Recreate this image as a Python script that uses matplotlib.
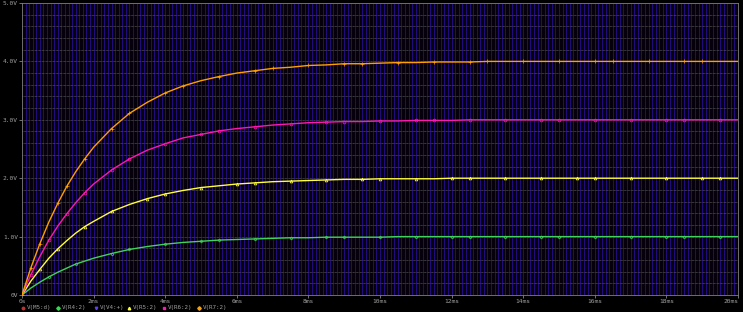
import numpy as np
import matplotlib
matplotlib.use('Agg')
import matplotlib.pyplot as plt

# tempo em ms (amostras)
tempo_ms = [0, 0.25, 0.5, 0.75, 1, 1.25, 1.5, 1.75, 2, 2.5, 3, 3.5, 4, 4.5, 5, 5.5, 6, 6.5,
            7, 7.5, 8, 8.5, 9, 9.5, 10, 10.5, 11, 11.5, 12, 12.5, 13, 13.5, 14, 14.5,
            15, 15.5, 16, 16.5, 17, 17.5, 18, 18.5, 19, 19.5, 20]

v_r7 = [0, 0.47, 0.88, 1.25, 1.57, 1.86, 2.11, 2.33, 2.53, 2.85, 3.11, 3.30, 3.46, 3.58,
        3.67, 3.74, 3.80, 3.84, 3.88, 3.90, 3.93, 3.94, 3.96, 3.96, 3.97, 3.98, 3.98, 3.99,
        3.99, 3.99, 4.00, 4.00, 4.00, 4.00, 4.00, 4.00, 4.00, 4.00, 4.00, 4.00, 4.00, 4.00,
        4.00, 4.00, 4.00]
v_r6 = [0, 0.35, 0.66, 0.94, 1.18, 1.39, 1.58, 1.75, 1.90, 2.14, 2.33, 2.48, 2.59, 2.69,
        2.75, 2.81, 2.85, 2.88, 2.91, 2.93, 2.95, 2.96, 2.97, 2.97, 2.98, 2.98, 2.99, 2.99,
        2.99, 3.00, 3.00, 3.00, 3.00, 3.00, 3.00, 3.00, 3.00, 3.00, 3.00, 3.00, 3.00, 3.00,
        3.00, 3.00, 3.00]
v_r5 = [0, 0.24, 0.44, 0.63, 0.79, 0.93, 1.06, 1.17, 1.26, 1.43, 1.55, 1.65, 1.73, 1.79,
        1.84, 1.87, 1.90, 1.92, 1.94, 1.95, 1.96, 1.97, 1.98, 1.98, 1.99, 1.99, 1.99, 1.99,
        2.00, 2.00, 2.00, 2.00, 2.00, 2.00, 2.00, 2.00, 2.00, 2.00, 2.00, 2.00, 2.00, 2.00,
        2.00, 2.00, 2.00]
v_r4 = [0, 0.12, 0.22, 0.31, 0.39, 0.46, 0.53, 0.58, 0.63, 0.71, 0.78, 0.83, 0.87, 0.90,
        0.92, 0.94, 0.95, 0.96, 0.97, 0.98, 0.98, 0.99, 0.99, 0.99, 0.99, 1.00, 1.00, 1.00,
        1.00, 1.00, 1.00, 1.00, 1.00, 1.00, 1.00, 1.00, 1.00, 1.00, 1.00, 1.00, 1.00, 1.00,
        1.00, 1.00, 1.00]

x_ticks = [0, 2, 4, 6, 8, 10, 12, 14, 16, 18, 20]
x_labels = ['0s', '2ms', '4ms', '6ms', '8ms', '10ms', '12ms', '14ms', '16ms', '18ms', '20ms']
y_ticks = [0, 1, 2, 3, 4, 5]
y_labels = ['0V', '1.0V', '2.0V', '3.0V', '4.0V', '5.0V']

legenda = ['V(M5:d)', 'V(R4:2)', 'V(V4:+)', 'V(R5:2)', 'V(R6:2)', 'V(R7:2)']

plt.rcParams['font.family'] = 'DejaVu Sans Mono'

fig = plt.figure(figsize=(7.43, 3.12), dpi=100, facecolor='black')
ax = fig.add_axes([22 / 743, 17 / 312, 716 / 743, 292 / 312])
ax.set_facecolor('#05000c')

# grade
ax.vlines(np.arange(0.1, 20, 0.1), 0, 5, colors='#260a88', linewidth=0.65, zorder=0)
ax.hlines(np.arange(0.2, 5, 0.2), 0, 20, colors='#6c6c6c', linewidth=0.5,
          linestyles=(0, (1, 1)), zorder=1)

ax.plot(tempo_ms, v_r4, color='#3fd35a', lw=1.0, marker='D', ms=1.5, mfc='none',
        mew=0.5, markevery=0.04, zorder=3)
ax.plot(tempo_ms, v_r5, color='#ffff3c', lw=1.0, marker='^', ms=2, mfc='none',
        mew=0.5, markevery=0.04, zorder=3)
ax.plot(tempo_ms, v_r6, color='#ff18b0', lw=1.0, marker='o', ms=2, mfc='none',
        mew=0.5, markevery=0.04, zorder=3)
ax.plot(tempo_ms, v_r7, color='#ffa000', lw=1.0, marker='+', ms=2.5,
        mew=0.5, markevery=0.04, zorder=3)

ax.set_xlim(0, 20)
ax.set_ylim(0, 5)
ax.set_xticks(x_ticks)
ax.set_xticklabels(x_labels)
ax.set_yticks(y_ticks)
ax.set_yticklabels(y_labels)
ax.tick_params(colors='#a0a0a0', labelsize=4.5, length=2, width=0.5, pad=1)
ax.get_xticklabels()[-1].set_ha('right')
for s in ax.spines.values():
    s.set_color('#808080')
    s.set_linewidth(0.6)

# legenda na parte de baixo
cores = ['#c03030', '#3fd35a', '#6040ff', '#ffff3c', '#ff18b0', '#ffa000']
marcas = ['o', 'D', 'v', '^', 's', 'D']
xs = [23, 58, 96, 129, 164, 199]
for nome, cor, m, x in zip(legenda, cores, marcas, xs):
    fig.lines.append(plt.Line2D([x / 743], [1 - 307.5 / 312], transform=fig.transFigure,
                                marker=m, ms=1.8, color=cor, mfc=cor, ls='none'))
    fig.text((x + 4) / 743, 1 - 307.5 / 312, nome, color='#a0a0a0', fontsize=4.2,
             va='center', ha='left')

fig.savefig('out.png', dpi=100, facecolor='black')
